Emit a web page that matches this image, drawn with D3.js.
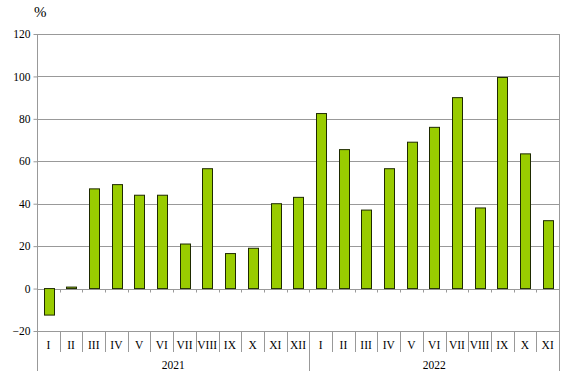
<!DOCTYPE html>
<html lang="en">
<head>
<meta charset="UTF-8">
<script src="https://cdn.jsdelivr.net/npm/d3@7"></script>
<style>
    body { margin: 0; background: white; }
    text { font-family: "Liberation Serif", "Times New Roman", serif; fill: #000; }
</style>
</head>
<body>
<div id="chart"></div>
<script>
    // data
    const months2021 = ["I", "II", "III", "IV", "V", "VI", "VII", "VIII", "IX", "X", "XI", "XII"];
    const months2022 = ["I", "II", "III", "IV", "V", "VI", "VII", "VIII", "IX", "X", "XI"];
    const values2021 = [-12.5, 0.7, 47, 49, 44, 44, 21, 56.5, 16.5, 19, 40, 43];
    const values2022 = [82.5, 65.5, 37, 56.5, 69, 76, 90, 38, 99.5, 63.5, 32];
    const years = ["2021", "2022"];
    const yTicks = [-20, 0, 20, 40, 60, 80, 100, 120];

    const width = 567, height = 384;
    const plotLeft = 37, plotRight = 559, plotTop = 34, plotBottom = 331;

    const rows = [];
    months2021.forEach((m, i) => rows.push({ key: "2021-" + i, month: m, value: values2021[i] }));
    months2022.forEach((m, i) => rows.push({ key: "2022-" + i, month: m, value: values2022[i] }));

    const svg = d3.select("#chart").append("svg")
        .attr("width", width)
        .attr("height", height);

    const x = d3.scaleBand()
        .domain(rows.map(d => d.key))
        .range([plotLeft, plotRight])
        .paddingInner(0.58)
        .paddingOuter(0.29);

    const y = d3.scaleLinear()
        .domain([-20, 120])
        .range([plotBottom, plotTop]);

    const step = x.step();
    const bandStart = i => plotLeft + i * step;

    // gridlines
    svg.append("g").selectAll("line")
        .data(yTicks)
        .enter().append("line")
        .attr("x1", plotLeft).attr("x2", plotRight)
        .attr("y1", d => Math.round(y(d)) + 0.5).attr("y2", d => Math.round(y(d)) + 0.5)
        .attr("stroke", "#999")
        .attr("stroke-width", 1);

    // right border
    svg.append("line")
        .attr("x1", plotRight + 0.5).attr("x2", plotRight + 0.5)
        .attr("y1", y(120)).attr("y2", 371)
        .attr("stroke", "#999");

    // left axis
    const yAxis = svg.append("g")
        .attr("transform", `translate(${plotLeft + 0.5},0)`)
        .call(d3.axisLeft(y).tickValues(yTicks).tickSize(4).tickPadding(3));
    yAxis.attr("font-family", null).attr("font-size", null);
    yAxis.select(".domain").remove();
    yAxis.selectAll(".tick line").attr("stroke", "#999");
    yAxis.selectAll(".tick text")
        .attr("font-size", 11.5)
        .attr("fill", "#000");
    svg.append("line")
        .attr("x1", plotLeft + 0.5).attr("x2", plotLeft + 0.5)
        .attr("y1", y(120)).attr("y2", 371)
        .attr("stroke", "#999");

    // zero line with small ticks below it
    const y0 = Math.round(y(0)) + 0.5;
    svg.append("g").selectAll("line")
        .data(d3.range(1, rows.length))
        .enter().append("line")
        .attr("x1", i => Math.round(bandStart(i)) + 0.5).attr("x2", i => Math.round(bandStart(i)) + 0.5)
        .attr("y1", y0).attr("y2", y0 + 3)
        .attr("stroke", "#999");

    // bars
    svg.append("g").selectAll("rect")
        .data(rows)
        .enter().append("rect")
        .attr("x", d => Math.round(x(d.key)) + 0.5)
        .attr("y", d => y(Math.max(0, d.value)))
        .attr("width", Math.round(x.bandwidth()))
        .attr("height", d => Math.max(1, Math.abs(y(d.value) - y(0))))
        .attr("fill", "#99cc00")
        .attr("stroke", "#1e2a00")
        .attr("stroke-width", 1);

    // category separators
    svg.append("g").selectAll("line")
        .data(d3.range(1, rows.length))
        .enter().append("line")
        .attr("x1", i => Math.round(bandStart(i)) + 0.5).attr("x2", i => Math.round(bandStart(i)) + 0.5)
        .attr("y1", plotBottom)
        .attr("y2", i => i === months2021.length ? 371 : 352)
        .attr("stroke", "#999");

    // month labels
    svg.append("g").selectAll("text")
        .data(rows)
        .enter().append("text")
        .attr("x", d => x(d.key) + x.bandwidth() / 2)
        .attr("y", 349)
        .attr("text-anchor", "middle")
        .attr("font-size", 11.5)
        .text(d => d.month);

    // year labels
    const yearCounts = [months2021.length, months2022.length];
    svg.append("g").selectAll("text")
        .data(years)
        .enter().append("text")
        .attr("x", (d, i) => {
            const start = i === 0 ? 0 : yearCounts[0];
            return bandStart(start) + yearCounts[i] * step / 2;
        })
        .attr("y", 369)
        .attr("text-anchor", "middle")
        .attr("font-size", 11.5)
        .text(d => d);

    // unit label
    svg.append("text")
        .attr("x", 34)
        .attr("y", 17)
        .attr("font-size", 15)
        .attr("font-family", "DejaVu Sans, sans-serif")
        .text("%");
</script>
</body>
</html>
